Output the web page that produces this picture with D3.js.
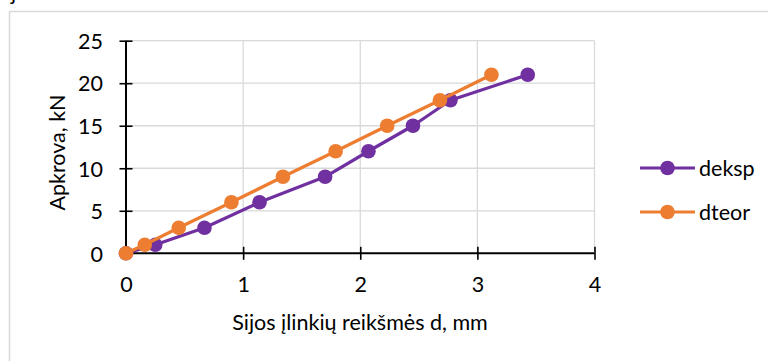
<!DOCTYPE html>
<html>
<head>
<meta charset="utf-8">
<script src="https://cdn.jsdelivr.net/npm/d3@7"></script>
<style>
  html, body { margin: 0; padding: 0; background: #fff; }
  svg { display: block; }
  text { font-family: Lato, "Open Sans", sans-serif; fill: #000; }
</style>
</head>
<body>
<svg id="chart" width="768" height="361"></svg>
<script>
// Load steps, kN
const loads = [0, 1, 3, 6, 9, 12, 15, 18, 21];
// Measured deflection, mm
const dEksp = [0, 0.25, 0.67, 1.14, 1.70, 2.07, 2.45, 2.77, 3.43];
// Theoretical deflection, mm
const dTeor = [0, 0.16, 0.45, 0.90, 1.34, 1.79, 2.23, 2.68, 3.12];

const seriesNames = ["deksp", "dteor"];
const seriesColors = ["#7030A0", "#ED7D31"];
const xTicks = [0, 1, 2, 3, 4];
const yTicks = [0, 5, 10, 15, 20, 25];

const FS = 21.5;

const series = [
  { name: seriesNames[0], color: seriesColors[0], pts: loads.map((v, i) => ({ x: dEksp[i], y: v })) },
  { name: seriesNames[1], color: seriesColors[1], pts: loads.map((v, i) => ({ x: dTeor[i], y: v })) }
];

const svg = d3.select("#chart");

// tail of the preceding line of text
svg.append("text").attr("x", 11).attr("y", 0).attr("font-size", FS).text("j");

// chart area frame
svg.append("rect")
  .attr("x", 9.5).attr("y", 11.5)
  .attr("width", 800).attr("height", 400)
  .attr("fill", "none").attr("stroke", "#d9d9d9").attr("stroke-width", 1.5);

const plot = { left: 126, right: 594.5, top: 40.7, bottom: 253.3 };
const x = d3.scaleLinear().domain([0, 4]).range([plot.left, plot.right]);
const y = d3.scaleLinear().domain([0, 25]).range([plot.bottom, plot.top]);

// gridlines
const grid = svg.append("g").attr("stroke", "#d9d9d9").attr("stroke-width", 1.3);
grid.selectAll("line.h").data(yTicks.filter(d => d > 0)).join("line")
  .attr("x1", plot.left).attr("x2", plot.right)
  .attr("y1", d => y(d)).attr("y2", d => y(d));
grid.selectAll("line.v").data(xTicks.filter(d => d > 0)).join("line")
  .attr("y1", plot.top).attr("y2", plot.bottom)
  .attr("x1", d => x(d)).attr("x2", d => x(d));

// axes with ticks crossing the axis line
const xAxis = d3.axisBottom(x).tickValues(xTicks).tickSize(0).tickFormat(d3.format("d"));
const yAxis = d3.axisLeft(y).tickValues(yTicks).tickSize(0).tickFormat(d3.format("d"));

const gx = svg.append("g").attr("transform", `translate(0,${plot.bottom})`).call(xAxis);
gx.select(".domain").remove();
gx.selectAll(".tick text").attr("font-size", FS).attr("font-family", "Lato").attr("y", 0).attr("dy", 0)
  .attr("transform", "translate(0,38.5)");
gx.selectAll(".tick").append("line").attr("y1", -6.5).attr("y2", 6.5).attr("stroke", "#000").attr("stroke-width", 1.6);
gx.append("line").attr("x1", plot.left).attr("x2", plot.right).attr("stroke", "#000").attr("stroke-width", 2);

const gy = svg.append("g").attr("transform", `translate(${plot.left},0)`).call(yAxis);
gy.select(".domain").remove();
gy.selectAll(".tick text").attr("font-size", FS).attr("font-family", "Lato").attr("x", -23).attr("dy", "0.36em");
gy.selectAll(".tick").append("line").attr("x1", -6.5).attr("x2", 6.5).attr("stroke", "#000").attr("stroke-width", 1.6);
gy.append("line").attr("y1", plot.top).attr("y2", plot.bottom).attr("stroke", "#000").attr("stroke-width", 2);

// axis titles
svg.append("text")
  .attr("x", 360).attr("y", 330)
  .attr("text-anchor", "middle").attr("font-size", FS)
  .text("Sijos įlinkių reikšmės d, mm");
svg.append("text")
  .attr("transform", "translate(65,152.5) rotate(-90)")
  .attr("text-anchor", "middle").attr("font-size", FS)
  .text("Apkrova, kN");

// series lines and markers
const line = d3.line().x(d => x(d.x)).y(d => y(d.y));
series.forEach(s => {
  const g = svg.append("g");
  g.append("path").datum(s.pts).attr("d", line)
    .attr("fill", "none").attr("stroke", s.color).attr("stroke-width", 3.2).attr("stroke-linejoin", "round");
  g.selectAll("circle").data(s.pts).join("circle")
    .attr("cx", d => x(d.x)).attr("cy", d => y(d.y)).attr("r", 7.3)
    .attr("fill", s.color);
});

// legend
const legendY = [168, 212];
series.forEach((s, i) => {
  const g = svg.append("g").attr("transform", `translate(0,${legendY[i]})`);
  g.append("line").attr("x1", 640).attr("x2", 695).attr("stroke", s.color).attr("stroke-width", 3.2);
  g.append("circle").attr("cx", 667.5).attr("cy", 0).attr("r", 7.3).attr("fill", s.color);
  g.append("text").attr("x", 699).attr("y", 0).attr("dy", "0.36em").attr("font-size", FS).text(s.name);
});
</script>
</body>
</html>
